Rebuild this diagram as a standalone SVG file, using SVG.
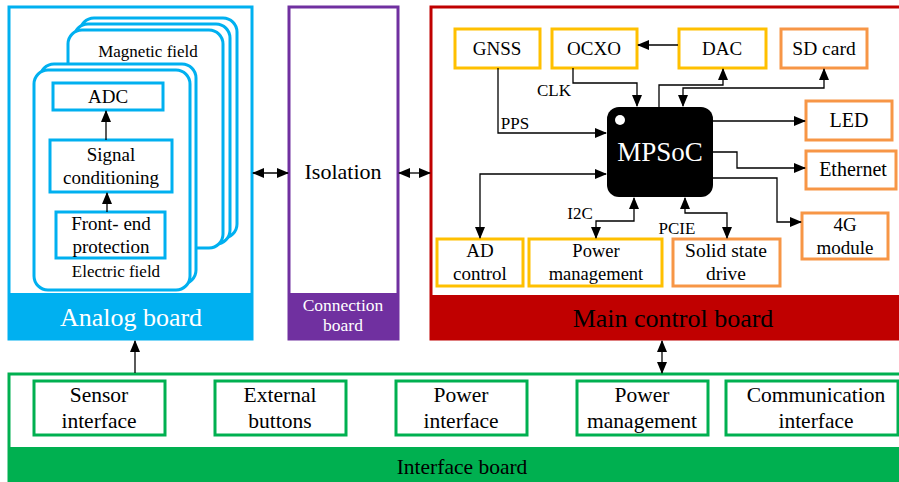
<svg xmlns="http://www.w3.org/2000/svg" width="899" height="482" viewBox="0 0 899 482" font-family="'Liberation Serif', 'DejaVu Serif', serif">
<defs>
<marker id="ah" markerWidth="12" markerHeight="10" refX="11" refY="5" orient="auto" markerUnits="userSpaceOnUse"><path d="M0,0 L12,5 L0,10 Z" fill="#000"/></marker>
<marker id="as" markerWidth="12" markerHeight="10" refX="1" refY="5" orient="auto" markerUnits="userSpaceOnUse"><path d="M12,0 L0,5 L12,10 Z" fill="#000"/></marker>
</defs>
<style>
text{font-family:'Liberation Serif','DejaVu Serif',serif;text-anchor:middle;fill:#000}
.t{font-size:19px}
.b{font-size:21.5px}
.s{font-size:17px}
.w{fill:#fff}
.blue{fill:#fff;stroke:#00B0F0;stroke-width:3}
.card{fill:#fff;stroke:#00B0F0;stroke-width:3}
.yel{fill:#fff;stroke:#FFC000;stroke-width:3}
.org{fill:#fff;stroke:#F79646;stroke-width:3}
.grn{fill:#fff;stroke:#00B050;stroke-width:3}
.c{fill:none;stroke:#000;stroke-width:1.3}
</style>
<g id="analog-board">
<rect x="9" y="7" width="243" height="332" fill="#fff" stroke="#00B0F0" stroke-width="3"/>
<rect x="9" y="293" width="243" height="46" fill="#00B0F0"/>
<text x="131" y="326" class="w" style="font-size:26px">Analog board</text>
</g>
<g id="magnetic-field">
<rect x="80" y="18" width="157" height="220" rx="14" class="card"/>
<rect x="74" y="24" width="156" height="220" rx="14" class="card"/>
<rect x="68" y="30" width="155" height="218" rx="14" class="card"/>
<text x="148" y="57" class="s">Magnetic field</text>
</g>
<g id="electric-field">
<rect x="40" y="64" width="156" height="220" rx="14" class="card"/>
<rect x="34" y="70" width="156" height="220" rx="14" class="card"/>
<text x="116" y="277" class="s">Electric field</text>
</g>
<g id="adc">
<rect x="53" y="83" width="110" height="27" class="blue"/>
<text x="108" y="103" class="t">ADC</text>
</g>
<g id="signal-conditioning">
<rect x="50" y="140" width="122" height="52" class="blue"/>
<text x="111" y="161" class="t">Signal</text>
<text x="111" y="184" class="t">conditioning</text>
</g>
<g id="front-end">
<rect x="56" y="212" width="109" height="46" class="blue"/>
<text x="111" y="230" class="t">Front- end</text>
<text x="111" y="253" class="t">protection</text>
</g>
<g id="connection-board">
<rect x="289" y="7" width="109" height="332" fill="#fff" stroke="#7030A0" stroke-width="3"/>
<rect x="289" y="293" width="109" height="46" fill="#7030A0"/>
<text x="343" y="179" style="font-size:22px">Isolation</text>
<text x="343" y="311" class="w" style="font-size:17.5px">Connection</text>
<text x="343" y="331" class="w" style="font-size:17.5px">board</text>
</g>
<g id="main-control-board">
<rect x="431" y="7" width="470" height="332" fill="#fff" stroke="#C00000" stroke-width="3"/>
<rect x="431" y="295" width="470" height="44" fill="#C00000"/>
<text x="673" y="327" style="font-size:26px">Main control board</text>
</g>
<g id="gnss"><rect x="455" y="29" width="85" height="39" class="yel"/><text x="497" y="55" class="t">GNSS</text></g>
<g id="ocxo"><rect x="552" y="29" width="85" height="39" class="yel"/><text x="594" y="55" class="t">OCXO</text></g>
<g id="dac"><rect x="679" y="29" width="87" height="39" class="yel"/><text x="722" y="55" class="t">DAC</text></g>
<g id="sd-card"><rect x="781" y="29" width="86" height="39" class="org"/><text x="824" y="55" style="font-size:19.5px">SD card</text></g>
<g id="led"><rect x="806" y="101" width="86" height="39" class="org"/><text x="849" y="127" style="font-size:20px">LED</text></g>
<g id="ethernet"><rect x="806" y="151" width="90" height="38" class="org"/><text x="853" y="176" style="font-size:20px">Ethernet</text></g>
<g id="4g-module"><rect x="802" y="213" width="86" height="46" class="org"/><text x="845" y="231" class="t">4G</text><text x="845" y="254" class="t">module</text></g>
<g id="ssd"><rect x="673" y="239" width="107" height="47" class="org"/><text x="726" y="257" style="font-size:19.5px">Solid state</text><text x="726" y="280" style="font-size:19.5px">drive</text></g>
<g id="power-management-main"><rect x="529" y="239" width="133" height="47" class="yel"/><text x="596" y="257" style="font-size:18.5px">Power</text><text x="596" y="280" style="font-size:18.5px">management</text></g>
<g id="ad-control"><rect x="437" y="239" width="86" height="47" class="yel"/><text x="480" y="257" class="t">AD</text><text x="480" y="280" class="t">control</text></g>
<g id="mpsoc">
<rect x="607" y="107" width="106" height="90" rx="12" fill="#000"/>
<circle cx="620" cy="120" r="5" fill="#fff"/>
<text x="660" y="161" class="w" style="font-size:27px">MPSoC</text>
</g>
<g id="interface-board">
<rect x="9" y="374" width="892" height="110" fill="#fff" stroke="#00B050" stroke-width="3"/>
<rect x="9" y="447" width="892" height="37" fill="#00B050"/>
<text x="462" y="474" class="b">Interface board</text>
</g>
<g id="sensor-interface"><rect x="34" y="381" width="131" height="54" class="grn"/><text x="99" y="402" class="b">Sensor</text><text x="99" y="428" class="b">interface</text></g>
<g id="external-buttons"><rect x="215" y="381" width="131" height="54" class="grn"/><text x="280" y="402" class="b">External</text><text x="280" y="428" class="b">buttons</text></g>
<g id="power-interface"><rect x="396" y="381" width="131" height="54" class="grn"/><text x="461" y="402" class="b">Power</text><text x="461" y="428" class="b">interface</text></g>
<g id="power-management-if"><rect x="577" y="381" width="131" height="54" class="grn"/><text x="642" y="402" class="b">Power</text><text x="642" y="428" class="b">management</text></g>
<g id="communication-interface"><rect x="726" y="381" width="172" height="54" class="grn"/><text x="816" y="402" class="b">Communication</text><text x="816" y="428" class="b">interface</text></g>
<g id="connectors">
<path d="M106,140 V111" class="c" marker-end="url(#ah)"/>
<path d="M107,212 V193" class="c" marker-end="url(#ah)"/>
<path d="M253,173 H288" class="c" marker-start="url(#as)" marker-end="url(#ah)"/>
<path d="M399,173 H430" class="c" marker-start="url(#as)" marker-end="url(#ah)"/>
<path d="M678,45 H638" class="c" marker-end="url(#ah)"/>
<path d="M573,68 V83 H637 V106" class="c" marker-end="url(#ah)"/>
<path d="M498,68 V133 H606" class="c" marker-end="url(#ah)"/>
<path d="M659,107 V85 H723 V69" class="c" marker-end="url(#ah)"/>
<path d="M683,106 V88 H824 V69" class="c" marker-start="url(#as)" marker-end="url(#ah)"/>
<path d="M713,121 H805" class="c" marker-end="url(#ah)"/>
<path d="M713,152 H737 V168 H805" class="c" marker-end="url(#ah)"/>
<path d="M713,178 H777 V222 H801" class="c" marker-end="url(#ah)"/>
<path d="M685,198 V213 H727 V238" class="c" marker-start="url(#as)" marker-end="url(#ah)"/>
<path d="M606,174 H480 V238" class="c" marker-start="url(#as)" marker-end="url(#ah)"/>
<path d="M596,238 V221 H634 V198" class="c" marker-start="url(#as)" marker-end="url(#ah)"/>
<path d="M135,373 V341" class="c" marker-end="url(#ah)"/>
<path d="M662,341 V373" class="c" marker-start="url(#as)" marker-end="url(#ah)"/>
</g>
<g id="labels">
<text x="554" y="96" class="s">CLK</text>
<text x="515" y="129" class="s">PPS</text>
<text x="580" y="219" class="s">I2C</text>
<text x="677" y="234" class="s">PCIE</text>
</g>
</svg>
